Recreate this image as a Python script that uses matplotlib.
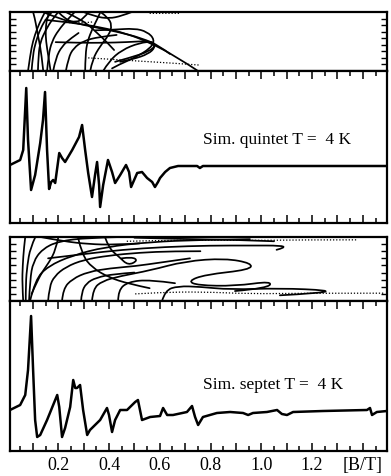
import numpy as np
import matplotlib
matplotlib.use("Agg")
import matplotlib.pyplot as plt
from matplotlib.path import Path
from matplotlib.patches import PathPatch
from matplotlib.ticker import MultipleLocator, FixedLocator, FixedFormatter

plt.rcParams['font.family'] = ['Liberation Serif', 'DejaVu Serif']

# ---------------- data ----------------
B_MIN, B_MAX = 0.01, 1.495

# quintet simulated spectrum (B in T, signal in arb. units)
quintet_B = [0.010, 0.050, 0.062, 0.074, 0.081, 0.093, 0.109, 0.129, 0.140, 0.148,
             0.156, 0.164, 0.172, 0.180, 0.188, 0.204, 0.215, 0.227, 0.255, 0.282,
             0.294, 0.306, 0.318, 0.333, 0.345, 0.353, 0.361, 0.365, 0.377, 0.396,
             0.412, 0.424, 0.444, 0.467, 0.479, 0.487, 0.499, 0.511, 0.530, 0.550,
             0.570, 0.581, 0.593, 0.601, 0.621, 0.640, 0.672, 0.707, 0.747, 0.758,
             0.770, 1.495]
quintet_S = [58, 63, 73, 135, 83, 33, 48, 80, 103, 131,
             73, 34, 41, 43, 40, 70, 65, 61, 73, 86,
             98, 73, 50, 26, 48, 61, 38, 16, 38, 63,
             51, 40, 48, 58, 51, 36, 43, 50, 51, 45,
             41, 36, 41, 45, 51, 55, 57, 57, 57, 55,
             57, 57]

# septet simulated spectrum
septet_B = [0.010, 0.050, 0.070, 0.081, 0.093, 0.101, 0.109, 0.117, 0.129, 0.156,
            0.180, 0.196, 0.204, 0.215, 0.227, 0.247, 0.259, 0.267, 0.274, 0.286,
            0.298, 0.314, 0.325, 0.337, 0.365, 0.392, 0.400, 0.412, 0.424, 0.444,
            0.471, 0.503, 0.514, 0.530, 0.562, 0.601, 0.613, 0.629, 0.652, 0.707,
            0.727, 0.739, 0.751, 0.770, 0.825, 0.877, 0.928, 0.948, 0.967, 1.022,
            1.062, 1.081, 1.101, 1.125, 1.243, 1.416, 1.428, 1.436, 1.455, 1.495]
septet_S = [41, 46, 56, 81, 135, 81, 31, 14, 16, 31,
            46, 56, 44, 14, 23, 44, 71, 63, 63, 66,
            41, 16, 21, 24, 31, 43, 36, 19, 31, 41,
            41, 49, 51, 31, 34, 35, 43, 36, 36, 39,
            45, 34, 26, 34, 38, 39, 38, 36, 38, 39,
            41, 37, 36, 39, 40, 41, 43, 36, 39, 40]

# resonance-field curves (B in T, angle in degrees), quintet
quintet_curves = [
    ([0.081, 0.090, 0.100, 0.117, 0.137, 0.148], [0, 25, 45, 65, 82, 90]),
    ([0.095, 0.100, 0.112, 0.130, 0.156, 0.175], [0, 25, 45, 65, 82, 90]),
    ([0.141, 0.134, 0.125, 0.115, 0.108, 0.101], [0, 25, 45, 65, 80, 90]),
    ([0.120, 0.122, 0.130, 0.150, 0.175, 0.200], [0, 25, 45, 62, 78, 90]),
    ([0.156, 0.162, 0.175, 0.200, 0.240, 0.265], [0, 25, 45, 62, 80, 90]),
    ([0.170, 0.160, 0.152, 0.150, 0.155, 0.165], [0, 25, 45, 62, 80, 90]),
    ([0.306, 0.307, 0.315, 0.335, 0.355, 0.365], [0, 25, 45, 65, 80, 89]),
    ([0.326, 0.335, 0.365, 0.400, 0.412, 0.395, 0.370], [0, 18, 38, 55, 70, 82, 89]),
    ([0.377, 0.400, 0.450, 0.520, 0.575, 0.582, 0.555, 0.495, 0.444],
     [0, 15, 32, 43, 45, 36, 26, 18, 14]),
    ([0.150, 0.250, 0.365, 0.470, 0.562, 0.660, 0.747], [78, 74, 67, 57, 43, 23, 1]),
    ([0.140, 0.200, 0.300, 0.432, 0.530, 0.600, 0.640], [90, 80, 70, 60, 50, 38, 26]),
    ([0.190, 0.280, 0.380, 0.470, 0.560, 0.585, 0.560, 0.480, 0.424],
     [44, 43, 43, 44, 46, 40, 30, 20, 14]),
    ([0.230, 0.270, 0.314, 0.353, 0.392, 0.420], [90, 82, 72, 58, 44, 32]),
    ([0.300, 0.345, 0.400, 0.450, 0.490], [90, 83, 80, 84, 90]),
    ([0.345, 0.420, 0.500, 0.550, 0.580, 0.565, 0.500, 0.440, 0.412],
     [62, 63, 65, 60, 48, 35, 20, 10, 4]),
    ([0.200, 0.230, 0.270, 0.300, 0.320], [90, 78, 74, 80, 90]),
    ([0.230, 0.240, 0.260, 0.300, 0.360, 0.430], [0, 20, 35, 46, 52, 55]),
    ([0.180, 0.190, 0.215, 0.250, 0.280], [0, 20, 38, 50, 58]),
]
quintet_dotted = [
    ([0.318, 0.404, 0.522, 0.652, 0.758], [20, 18, 15, 12, 9]),
    ([0.230, 0.300, 0.340], [74, 73, 75]),
    ([0.560, 0.620, 0.680], [88, 88, 88]),
]

# resonance-field curves, septet
septet_curves = [
    ([0.062, 0.058, 0.060, 0.065, 0.070], [0, 25, 50, 75, 90]),
    ([0.072, 0.072, 0.078, 0.090, 0.110], [0, 25, 50, 75, 90]),
    ([0.085, 0.089, 0.101, 0.137, 0.200, 0.318, 0.450], [0, 30, 55, 73, 84, 89, 90]),
    ([0.089, 0.109, 0.160, 0.255, 0.385, 0.562, 0.758, 0.955],
     [0, 30, 49, 64, 76, 83, 86, 87]),
    ([0.160, 0.165, 0.185, 0.230, 0.300, 0.400, 0.520, 0.650, 0.760],
     [0, 20, 35, 48, 58, 64, 68, 70, 70]),
    ([0.215, 0.219, 0.255, 0.318, 0.404, 0.503, 0.601, 0.719],
     [0, 17, 31, 41, 46, 49, 54, 60]),
    ([0.290, 0.292, 0.310, 0.350, 0.420, 0.500], [0, 12, 25, 33, 38, 40]),
    ([0.333, 0.337, 0.373, 0.444, 0.562, 0.700, 0.857, 0.963, 0.955,
      0.778, 0.711, 0.750, 0.896, 1.042, 1.026, 0.896],
     [0, 17, 28, 35, 43, 56, 60, 53, 44, 37, 28, 22, 21, 28, 18, 14]),
    ([0.436, 0.436, 0.475, 0.562, 0.660], [0, 15, 27, 30, 25]),
    ([0.609, 0.621, 0.672, 0.758, 0.877, 1.073, 1.270, 1.231, 1.073],
     [0, 15, 21, 20, 16, 18, 15, 11, 8]),
    ([0.200, 0.190, 0.165, 0.135, 0.110, 0.095], [89, 72, 55, 40, 22, 10]),
    ([0.278, 0.294, 0.333, 0.400, 0.480, 0.560], [89, 65, 47, 33, 24, 18]),
    ([0.385, 0.400, 0.440, 0.475, 0.514, 0.490, 0.450],
     [89, 74, 62, 50, 57, 62, 60]),
    ([0.160, 0.300, 0.450, 0.620, 0.800, 0.960, 1.080, 1.093, 1.060],
     [60, 66, 72, 76, 78, 78, 78, 75, 72]),
    ([0.500, 0.700, 0.900, 1.050], [89, 87, 86, 84]),
    ([0.130, 0.220, 0.320, 0.420, 0.520], [90, 84, 80, 79, 81]),
]
septet_dotted = [
    ([0.503, 0.600, 0.760, 0.960, 1.150, 1.487], [10, 12, 13, 10, 11, 11]),
    ([0.470, 0.700, 0.960, 1.150, 1.377], [84, 86, 85, 86, 86]),
]

tick_major = [0.1 * i for i in range(1, 15)]
tick_labels = ['', '0.2', '', '0.4', '', '0.6', '', '0.8', '', '1.0', '', '1.2', '', '[B/T]']

quintet_label = "Sim. quintet T =  4 K"
septet_label = "Sim. septet T =  4 K"

# ---------------- figure ----------------
W, H = 391, 476
fig = plt.figure(figsize=(W / 100, H / 100), dpi=100)

def ax_px(x0, y0, x1, y1):
    return fig.add_axes([x0 / W, 1 - y1 / H, (x1 - x0) / W, (y1 - y0) / H])

ax_q_lev = ax_px(10, 12, 387, 71)
ax_q = ax_px(10, 71, 387, 223)
ax_s_lev = ax_px(10, 237, 387, 301)
ax_s = ax_px(10, 301, 387, 451)

FRAME_LW = 1.6
for ax in (ax_q_lev, ax_q, ax_s_lev, ax_s):
    for sp in ax.spines.values():
        sp.set_linewidth(FRAME_LW)
    ax.set_xlim(B_MIN, B_MAX)


def smooth_path(xs, ys):
    """Quadratic-Bezier rendering of a polyline (points are control points)."""
    pts = list(zip(xs, ys))
    if len(pts) < 3:
        return Path(pts)
    verts = [pts[0]]
    codes = [Path.MOVETO]
    for i in range(1, len(pts) - 2):
        mid = ((pts[i][0] + pts[i + 1][0]) / 2, (pts[i][1] + pts[i + 1][1]) / 2)
        verts += [pts[i], mid]
        codes += [Path.CURVE3, Path.CURVE3]
    verts += [pts[-2], pts[-1]]
    codes += [Path.CURVE3, Path.CURVE3]
    return Path(verts, codes)


def style_levels(ax, curves, dotted):
    for bx, ang in curves:
        ax.add_patch(PathPatch(smooth_path(bx, ang), fill=False, ec='black',
                               lw=1.25, capstyle='round', joinstyle='round'))
    for bx, ang in dotted:
        ax.add_patch(PathPatch(smooth_path(bx, ang), fill=False, ec='black',
                               lw=0.9, ls=(0, (1, 1.5))))
    ax.set_ylim(0, 90)
    ax.set_xticks([])
    ax.yaxis.set_major_locator(FixedLocator([10, 20, 30, 40, 50, 60, 70, 80]))
    ax.tick_params(axis='y', which='major', direction='in', left=True, right=True,
                   length=4.5, width=1.0, labelleft=False)

style_levels(ax_q_lev, quintet_curves, quintet_dotted)
style_levels(ax_s_lev, septet_curves, septet_dotted)


def style_spec(ax, bx, sig, top, label, label_y, show_labels):
    ax.plot(bx, sig, color='black', lw=1.8, solid_joinstyle='round')
    ax.set_ylim(0, top)
    ax.set_yticks([])
    ax.xaxis.set_major_locator(FixedLocator(tick_major))
    ax.xaxis.set_minor_locator(MultipleLocator(0.05))
    ax.tick_params(axis='x', which='major', direction='in', top=True, bottom=True,
                   length=6, width=1.1, pad=4, labelsize=13)
    ax.tick_params(axis='x', which='minor', direction='in', top=True, bottom=True,
                   length=3.5, width=1.1)
    if show_labels:
        ax.xaxis.set_major_formatter(FixedFormatter(tick_labels))
    else:
        ax.tick_params(axis='x', labelbottom=False)
    ax.text(0.77, label_y, label, fontsize=12.5, va='center', ha='left')

style_spec(ax_q, quintet_B, quintet_S, 152, quintet_label, 83, False)
style_spec(ax_s, septet_B, septet_S, 150, septet_label, 66, True)

fig.savefig('out.png', dpi=100)
